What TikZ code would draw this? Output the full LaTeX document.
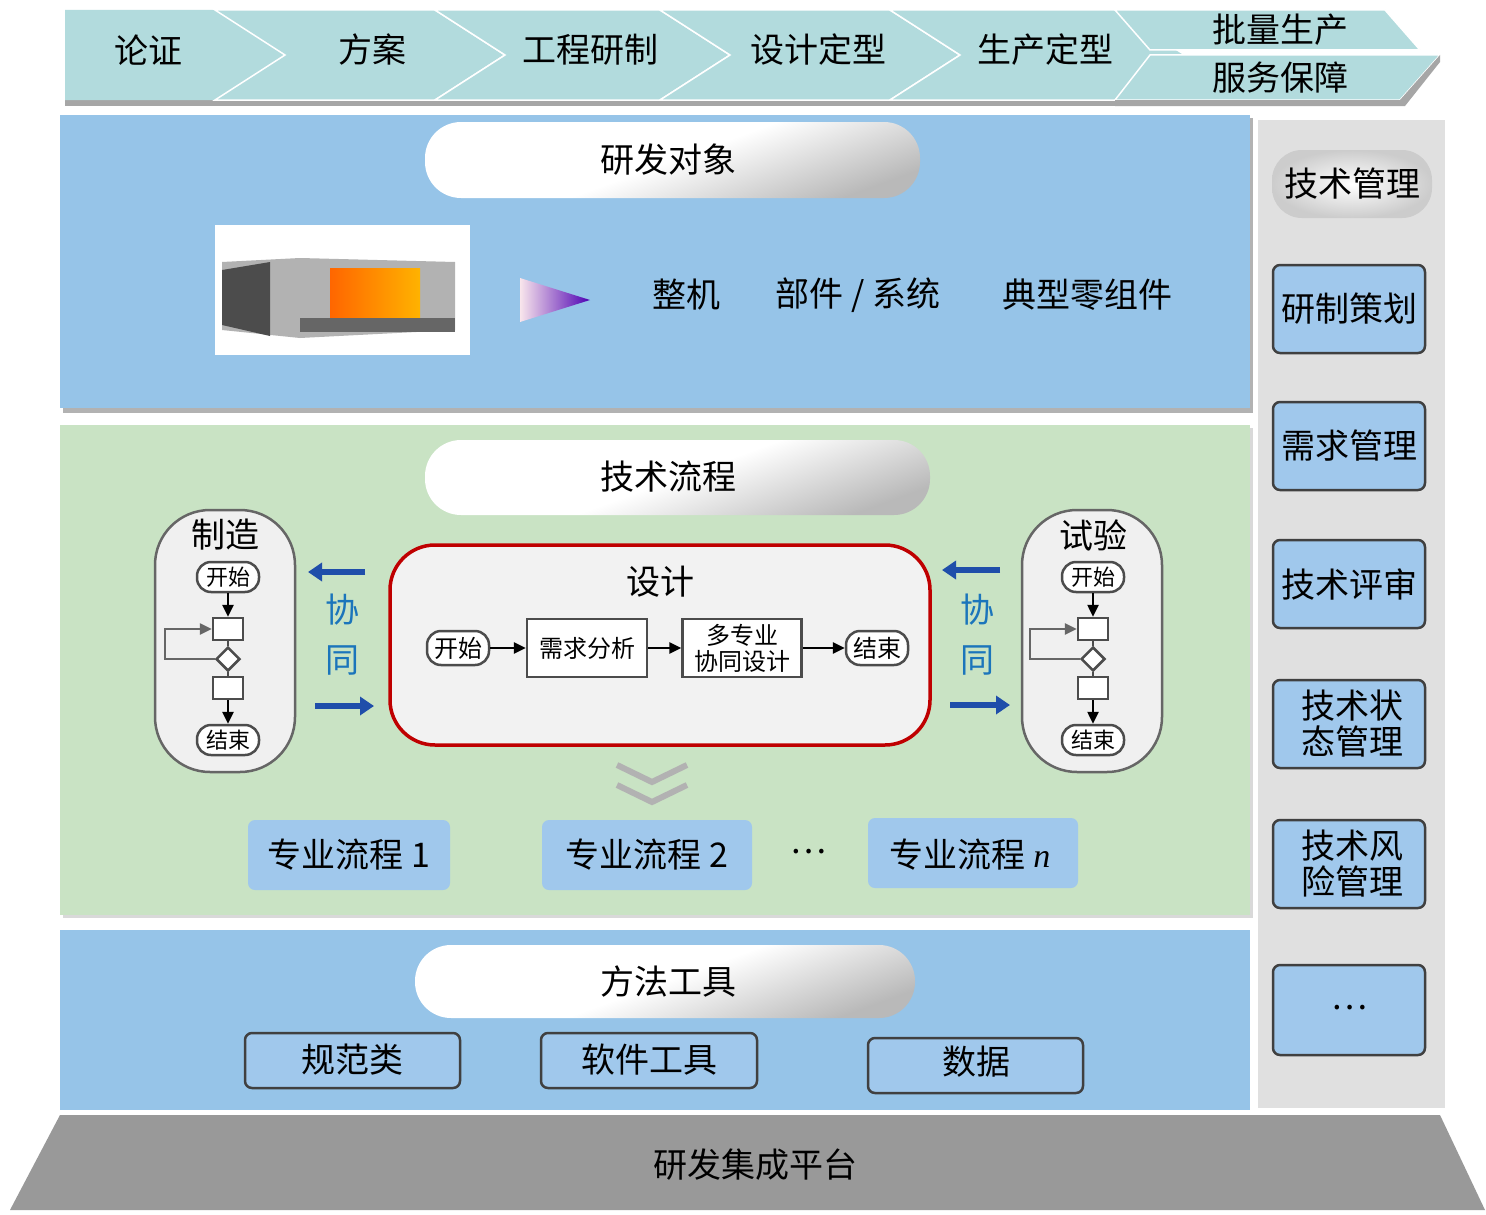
\documentclass[tikz,border=0pt]{standalone}
\usepackage{fontspec}
\setmainfont{Noto Sans CJK SC}
\newfontfamily\latserif{Liberation Serif}
\usetikzlibrary{shapes.geometric,arrows.meta,shadows}
\definecolor{chev}{RGB}{178,219,221}
\definecolor{pblue}{RGB}{150,196,232}
\definecolor{pgreen}{RGB}{201,227,196}
\definecolor{rgrey}{RGB}{224,224,224}
\definecolor{bbox}{RGB}{160,200,236}
\definecolor{arr}{RGB}{31,78,170}
\definecolor{xt}{RGB}{27,117,187}
\tikzset{
 pill/.style={rounded corners=36pt,top color=white,bottom color=gray!55,middle color=white,shading angle=20},
 tbox/.style={draw=black!75,line width=2.5pt,fill=bbox,rounded corners=7pt},
 sbox/.style={fill=bbox,rounded corners=7pt},
 small/.style={draw=black!70,line width=2.5pt,fill=white,rounded corners=14pt,inner sep=0pt,minimum width=62pt,minimum height=30pt,font=\fontsize{22}{22}\selectfont},
 rect/.style={draw=black!70,line width=2.5pt,fill=white},
 fl/.style={-{Triangle[length=12pt,width=11pt]},line width=2.5pt},
 barr/.style={-{Triangle[length=14pt,width=18pt]},line width=6pt,arr},
 big/.style={font=\fontsize{34}{36}\selectfont}
}
\begin{document}
\begin{tikzpicture}[x=1pt,y=-1pt]
\useasboundingbox[fill=white] (0,0) rectangle (1486,1215);
% chevrons
\foreach \a/\b in {65/215,215/435,435/660,660/890,890/1115}{
 \fill[gray!70] (\a,100) -- (\b,100) -- (\b,106) -- (\a,106) -- cycle;
}
\fill[chev] (65,10) -- (215,10) -- (285,55) -- (215,100) -- (65,100) -- cycle;
\foreach \a/\b in {215/435,435/660,660/890,890/1115}{
 \fill[chev,draw=white,line width=1.5pt] (\a,10) -- (\b,10) -- (\b+70,55) -- (\b,100) -- (\a,100) -- (\a+70,55) -- cycle;
}
\fill[chev,draw=white,line width=1.5pt] (1115,10) -- (1385,10) -- (1420,50) -- (1150,50) -- cycle;
\fill[chev,draw=white,line width=1.5pt] (1150,55) -- (1440,55) -- (1400,100) -- (1115,100) -- cycle;
\fill[gray!70] (1115,100) -- (1400,100) -- (1440,55) -- (1440,62) -- (1405,106) -- (1115,106) -- cycle;
\node[big] (c1) at (148,50) {论证};
\node[big] (c2) at (372,50) {方案};
\node[big] (c3) at (590,50) {工程研制};
\node[big] (c4) at (818,50) {设计定型};
\node[big] (c5) at (1045,50) {生产定型};
\node[big] (c6) at (1280,30) {批量生产};
\node[big] (c7) at (1280,78) {服务保障};
% panels
\fill[gray!60] (63,118) rectangle (1253,413);
\fill[pblue] (60,115) rectangle (1250,408);
\fill[gray!30] (63,428) rectangle (1253,918);
\fill[pgreen] (60,425) rectangle (1250,915);
\fill[pblue] (60,930) rectangle (1250,1110);
\fill[rgrey] (1258,120) rectangle (1445,1108);
\fill[gray!80] (60,1115) -- (1440,1115) -- (1485,1210) -- (10,1210) -- cycle;
\node[big] (plat) at (755,1165) {研发集成平台};
% title pills
\shade[pill] (425,122) rectangle (920,198);
\node[big] (t1) at (668,160) {研发对象};
\shade[pill] (425,440) rectangle (930,515);
\node[big] (t2) at (668,477) {技术流程};
\shade[pill] (415,945) rectangle (915,1018);
\node[big] (t3) at (668,982) {方法工具};
% engine picture
\fill[white] (215,225) rectangle (470,355);
\fill[gray!60] (222,262) -- (300,258) -- (455,262) -- (455,330) -- (300,338) -- (222,330) -- cycle;
\fill[black!70] (222,270) -- (270,262) -- (270,336) -- (222,325) -- cycle;
\shade[left color=orange!80!red,right color=orange!60!yellow] (330,268) rectangle (420,318);
\fill[black!60] (300,318) rectangle (455,332);
\shade[left color=purple!10,right color=blue!60!purple] (520,278) -- (590,300) -- (520,322) -- cycle;
\node[big] (o1) at (686,295) {整机};
\node[big] (o2) at (858,295) {部件 / 系统};
\node[big] (o3) at (1087,295) {典型零组件};
% right column
\shade[rounded corners=30pt,inner color=white,outer color=gray!40] (1272,150) rectangle (1432,218);
\node[big] (m0) at (1352,184) {技术管理};
\foreach \y/\t [count=\i] in {265/研制策划,402/需求管理,540/技术评审}{
 \draw[tbox] (1273,\y) rectangle (1425,\y+88);
 \node[big] (m\i) at (1349,\y+44) {\t};
}
\draw[tbox] (1273,680) rectangle (1425,768);
\node[big,align=center] (m4) at (1352,724) {技术状\\态管理};
\draw[tbox] (1273,820) rectangle (1425,908);
\node[big,align=center] (m5) at (1352,864) {技术风\\险管理};
\draw[tbox] (1273,965) rectangle (1425,1055);
\node[big] (m6) at (1349,1008) {…};
% 制造 / 试验 side pills
\foreach \cx in {225,1092}{
 \draw[draw=black!60,line width=2.5pt,fill=gray!12,rounded corners=55pt] (\cx-70,510) rectangle (\cx+70,772);
}
\node[big] (zz) at (225,535) {制造};
\node[big] (sy) at (1093,535) {试验};
\foreach \cx/\p in {228/a,1093/b}{
 \node[small] (\p s) at (\cx,577) {开始};
 \node[rect,minimum width=30pt,minimum height=22pt,inner sep=0] (\p q1) at (\cx,629) {};
 \node[diamond,draw=black!70,line width=2.5pt,fill=white,minimum size=24pt,inner sep=0] (\p d) at (\cx,659) {};
 \node[rect,minimum width=30pt,minimum height=22pt,inner sep=0] (\p q2) at (\cx,688) {};
 \node[small] (\p e) at (\cx,740) {结束};
 \draw[fl] (\p s) -- (\p q1);
 \draw[line width=2.5pt,black!70] (\p q1) -- (\p d) -- (\p q2);
 \draw[fl] (\p q2) -- (\p e);
 \draw[fl,black!60] (\p d.west) -- ++(-50,0) |- (\p q1.west);
}
% design box
\draw[draw=red!75!black,line width=3.5pt,fill=gray!10,rounded corners=45pt] (390,545) rectangle (930,745);
\node[big] (sj) at (660,582) {设计};
\node[small,minimum height=34pt,font=\fontsize{24}{24}\selectfont] (ds) at (458,648) {开始};
\node[rect,minimum width=120pt,minimum height=58pt,font=\fontsize{24}{24}\selectfont] (d1) at (587,648) {需求分析};
\node[rect,minimum width=119pt,minimum height=58pt,align=center,font=\fontsize{24}{26}\selectfont,inner sep=0] (d2) at (742,648) {多专业\\协同设计};
\node[small,minimum height=34pt,font=\fontsize{24}{24}\selectfont] (de) at (877,648) {结束};
\draw[fl] (ds) -- (d1);
\draw[fl] (d1) -- (d2);
\draw[fl] (d2) -- (de);
% 协同 arrows
\coordinate (l1a) at (365,572); \coordinate (l1b) at (308,572);
\coordinate (l2a) at (315,706); \coordinate (l2b) at (374,706);
\coordinate (r1a) at (1000,570); \coordinate (r1b) at (942,570);
\coordinate (r2a) at (950,705); \coordinate (r2b) at (1010,705);
\draw[barr] (l1a) -- (l1b);
\draw[barr] (l2a) -- (l2b);
\draw[barr] (r1a) -- (r1b);
\draw[barr] (r2a) -- (r2b);
\node[big,text=xt] (x1) at (342,610) {协};
\node[big,text=xt] (x2) at (342,660) {同};
\node[big,text=xt] (x3) at (977,610) {协};
\node[big,text=xt] (x4) at (977,660) {同};
% double chevron
\draw[gray!60,line width=6pt] (617,765) -- (652,782) -- (687,765);
\draw[gray!60,line width=6pt] (617,785) -- (652,802) -- (687,785);
% 专业流程
\fill[sbox] (248,820) rectangle (450,890);
\node[big] (p1) at (349,855) {专业流程 1};
\fill[sbox] (542,820) rectangle (752,890);
\node[big] (p2) at (647,855) {专业流程 2};
\node[big] (pd) at (808,852) {…};
\fill[sbox] (868,818) rectangle (1078,888);
\node[big] (p3) at (970,855) {专业流程 {\latserif\itshape n}};
% tools
\draw[tbox] (245,1033) rectangle (460,1088);
\node[big] (g1) at (352,1060) {规范类};
\draw[tbox] (541,1033) rectangle (757,1088);
\node[big] (g2) at (649,1060) {软件工具};
\draw[tbox] (868,1038) rectangle (1083,1093);
\node[big] (g3) at (976,1062) {数据};
\end{tikzpicture}
\end{document}
